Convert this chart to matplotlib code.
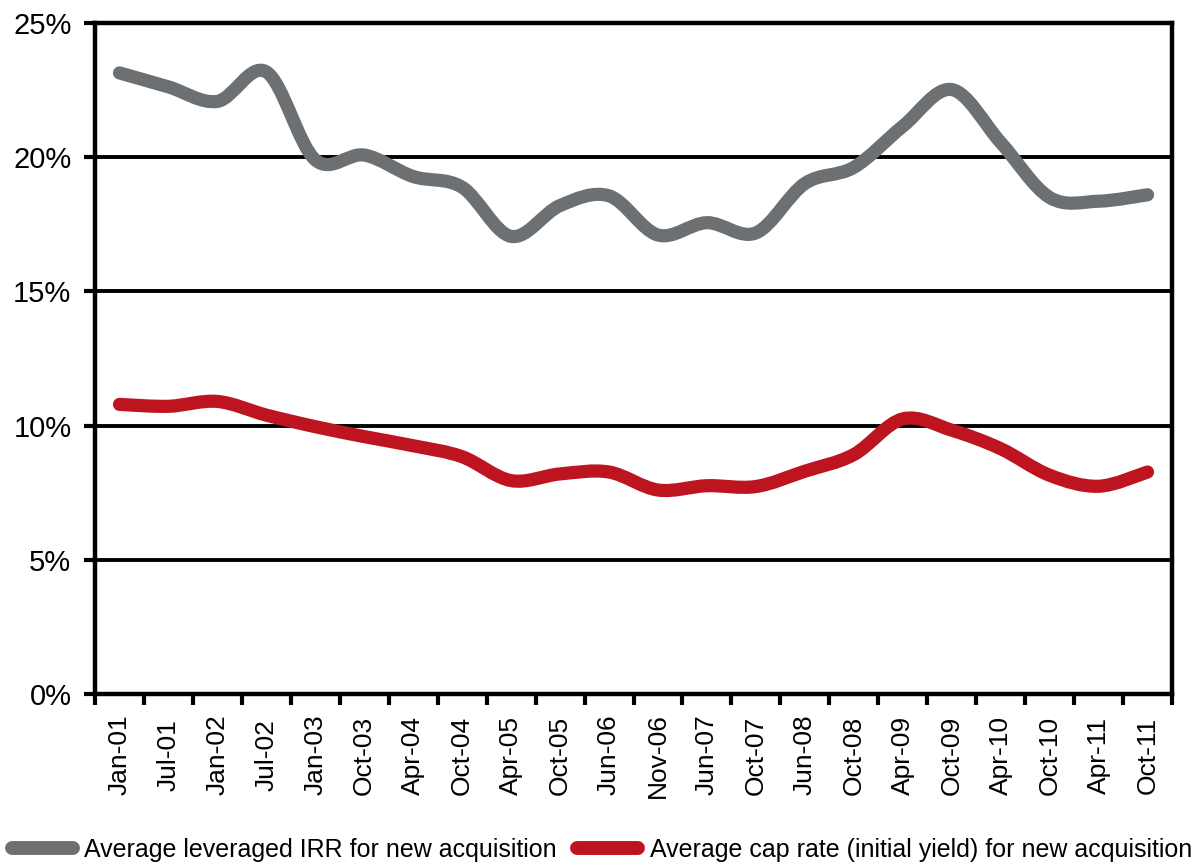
import numpy as np
import matplotlib
matplotlib.use("Agg")
import matplotlib.pyplot as plt
from matplotlib.path import Path
from matplotlib.patches import PathPatch
from matplotlib.lines import Line2D
from matplotlib import font_manager as fm

# ---------------- data ----------------
categories = ["Jan-01", "Jul-01", "Jan-02", "Jul-02", "Jan-03", "Oct-03", "Apr-04",
              "Oct-04", "Apr-05", "Oct-05", "Jun-06", "Nov-06", "Jun-07", "Oct-07",
              "Jun-08", "Oct-08", "Apr-09", "Oct-09", "Apr-10", "Oct-10", "Apr-11",
              "Oct-11"]
irr = [23.14, 22.62, 22.08, 23.18, 19.9, 20.08, 19.28, 18.88, 17.05, 18.2, 18.56,
       17.1, 17.56, 17.18, 19.02, 19.62, 21.15, 22.52, 20.55, 18.5, 18.36, 18.6]
cap_rate = [10.79, 10.72, 10.9, 10.39, 9.96, 9.59, 9.25, 8.84, 7.95, 8.2, 8.27,
            7.6, 7.76, 7.73, 8.3, 8.92, 10.25, 9.83, 9.14, 8.15, 7.74, 8.27]
series_names = ["Average leveraged IRR for new acquisition",
                "Average cap rate (initial yield) for new acquisition"]
y_ticks = [0, 5, 10, 15, 20, 25]

GRAY = "#6d7073"
RED = "#be1420"

names = {f.name for f in fm.fontManager.ttflist}
HAS_NARROW = "Liberation Sans Narrow" in names
NARROW = "Liberation Sans Narrow" if HAS_NARROW else "Liberation Sans"
XL_SIZE = 22 if HAS_NARROW else 19
LEG_SIZE = 21.5 if HAS_NARROW else 18
plt.rcParams["font.family"] = ["Liberation Sans", "DejaVu Sans"]


def smooth_path(xs, ys):
    """Excel-like smoothed line: cubic Bezier segments through the data points."""
    pts = np.column_stack([xs, ys]).astype(float)
    n = len(pts)
    verts = [pts[0]]
    codes = [Path.MOVETO]
    for i in range(n - 1):
        p0 = pts[i - 1] if i > 0 else pts[i]
        p1 = pts[i]
        p2 = pts[i + 1]
        p3 = pts[i + 2] if i + 2 < n else pts[i + 1]
        c1 = p1 + (p2 - p0) / 6.0
        c2 = p2 - (p3 - p1) / 6.0
        verts += [c1, c2, p2]
        codes += [Path.CURVE4] * 3
    return Path(verts, codes)


fig = plt.figure(figsize=(11.96, 8.67), dpi=100)
ax = fig.add_axes([95 / 1196, (867 - 694) / 867, (1172 - 95) / 1196, (694 - 23) / 867])

x = np.arange(len(categories))
for vals, col in [(irr, GRAY), (cap_rate, RED)]:
    patch = PathPatch(smooth_path(x, vals), facecolor="none", edgecolor=col,
                      lw=9.5, capstyle="round", joinstyle="round", zorder=3)
    ax.add_patch(patch)

ax.set_xlim(-0.5, len(categories) - 0.5)
ax.set_ylim(0, 25)

# grid
for yv in y_ticks[1:-1]:
    ax.axhline(yv, color="black", lw=2.8, zorder=1)

for side in ["left", "right", "top", "bottom"]:
    ax.spines[side].set_linewidth(3.2)
    ax.spines[side].set_color("black")
    ax.spines[side].set_zorder(4)

ax.set_yticks(y_ticks)
ax.set_yticklabels([f"{v}%" for v in y_ticks])
ax.tick_params(axis="y", direction="out", length=8, width=3, pad=9,
               labelsize=21, colors="black")

ax.set_xticks(x)
ax.set_xticklabels(categories, rotation=90, fontfamily=NARROW, fontsize=XL_SIZE)
ax.set_xticks(np.arange(-0.5, len(categories), 1), minor=True)
ax.tick_params(axis="x", which="major", length=0, pad=44)
ax.tick_params(axis="x", which="minor", direction="out", length=8, width=3)
for lbl in ax.get_xticklabels():
    lbl.set_va("center")
    lbl.set_ha("center")

handles = [Line2D([], [], color=GRAY, lw=10, solid_capstyle="round"),
           Line2D([], [], color=RED, lw=10, solid_capstyle="round")]
fig.legend(handles, series_names, loc="center left", ncol=2,
           bbox_to_anchor=(12 / 1196, 1 - 850 / 867), frameon=False,
           prop={"family": NARROW, "size": LEG_SIZE},
           handlelength=2.45, handletextpad=0.45, columnspacing=0.8,
           borderpad=0, borderaxespad=0)

fig.savefig("out.png", dpi=100, facecolor="white")
